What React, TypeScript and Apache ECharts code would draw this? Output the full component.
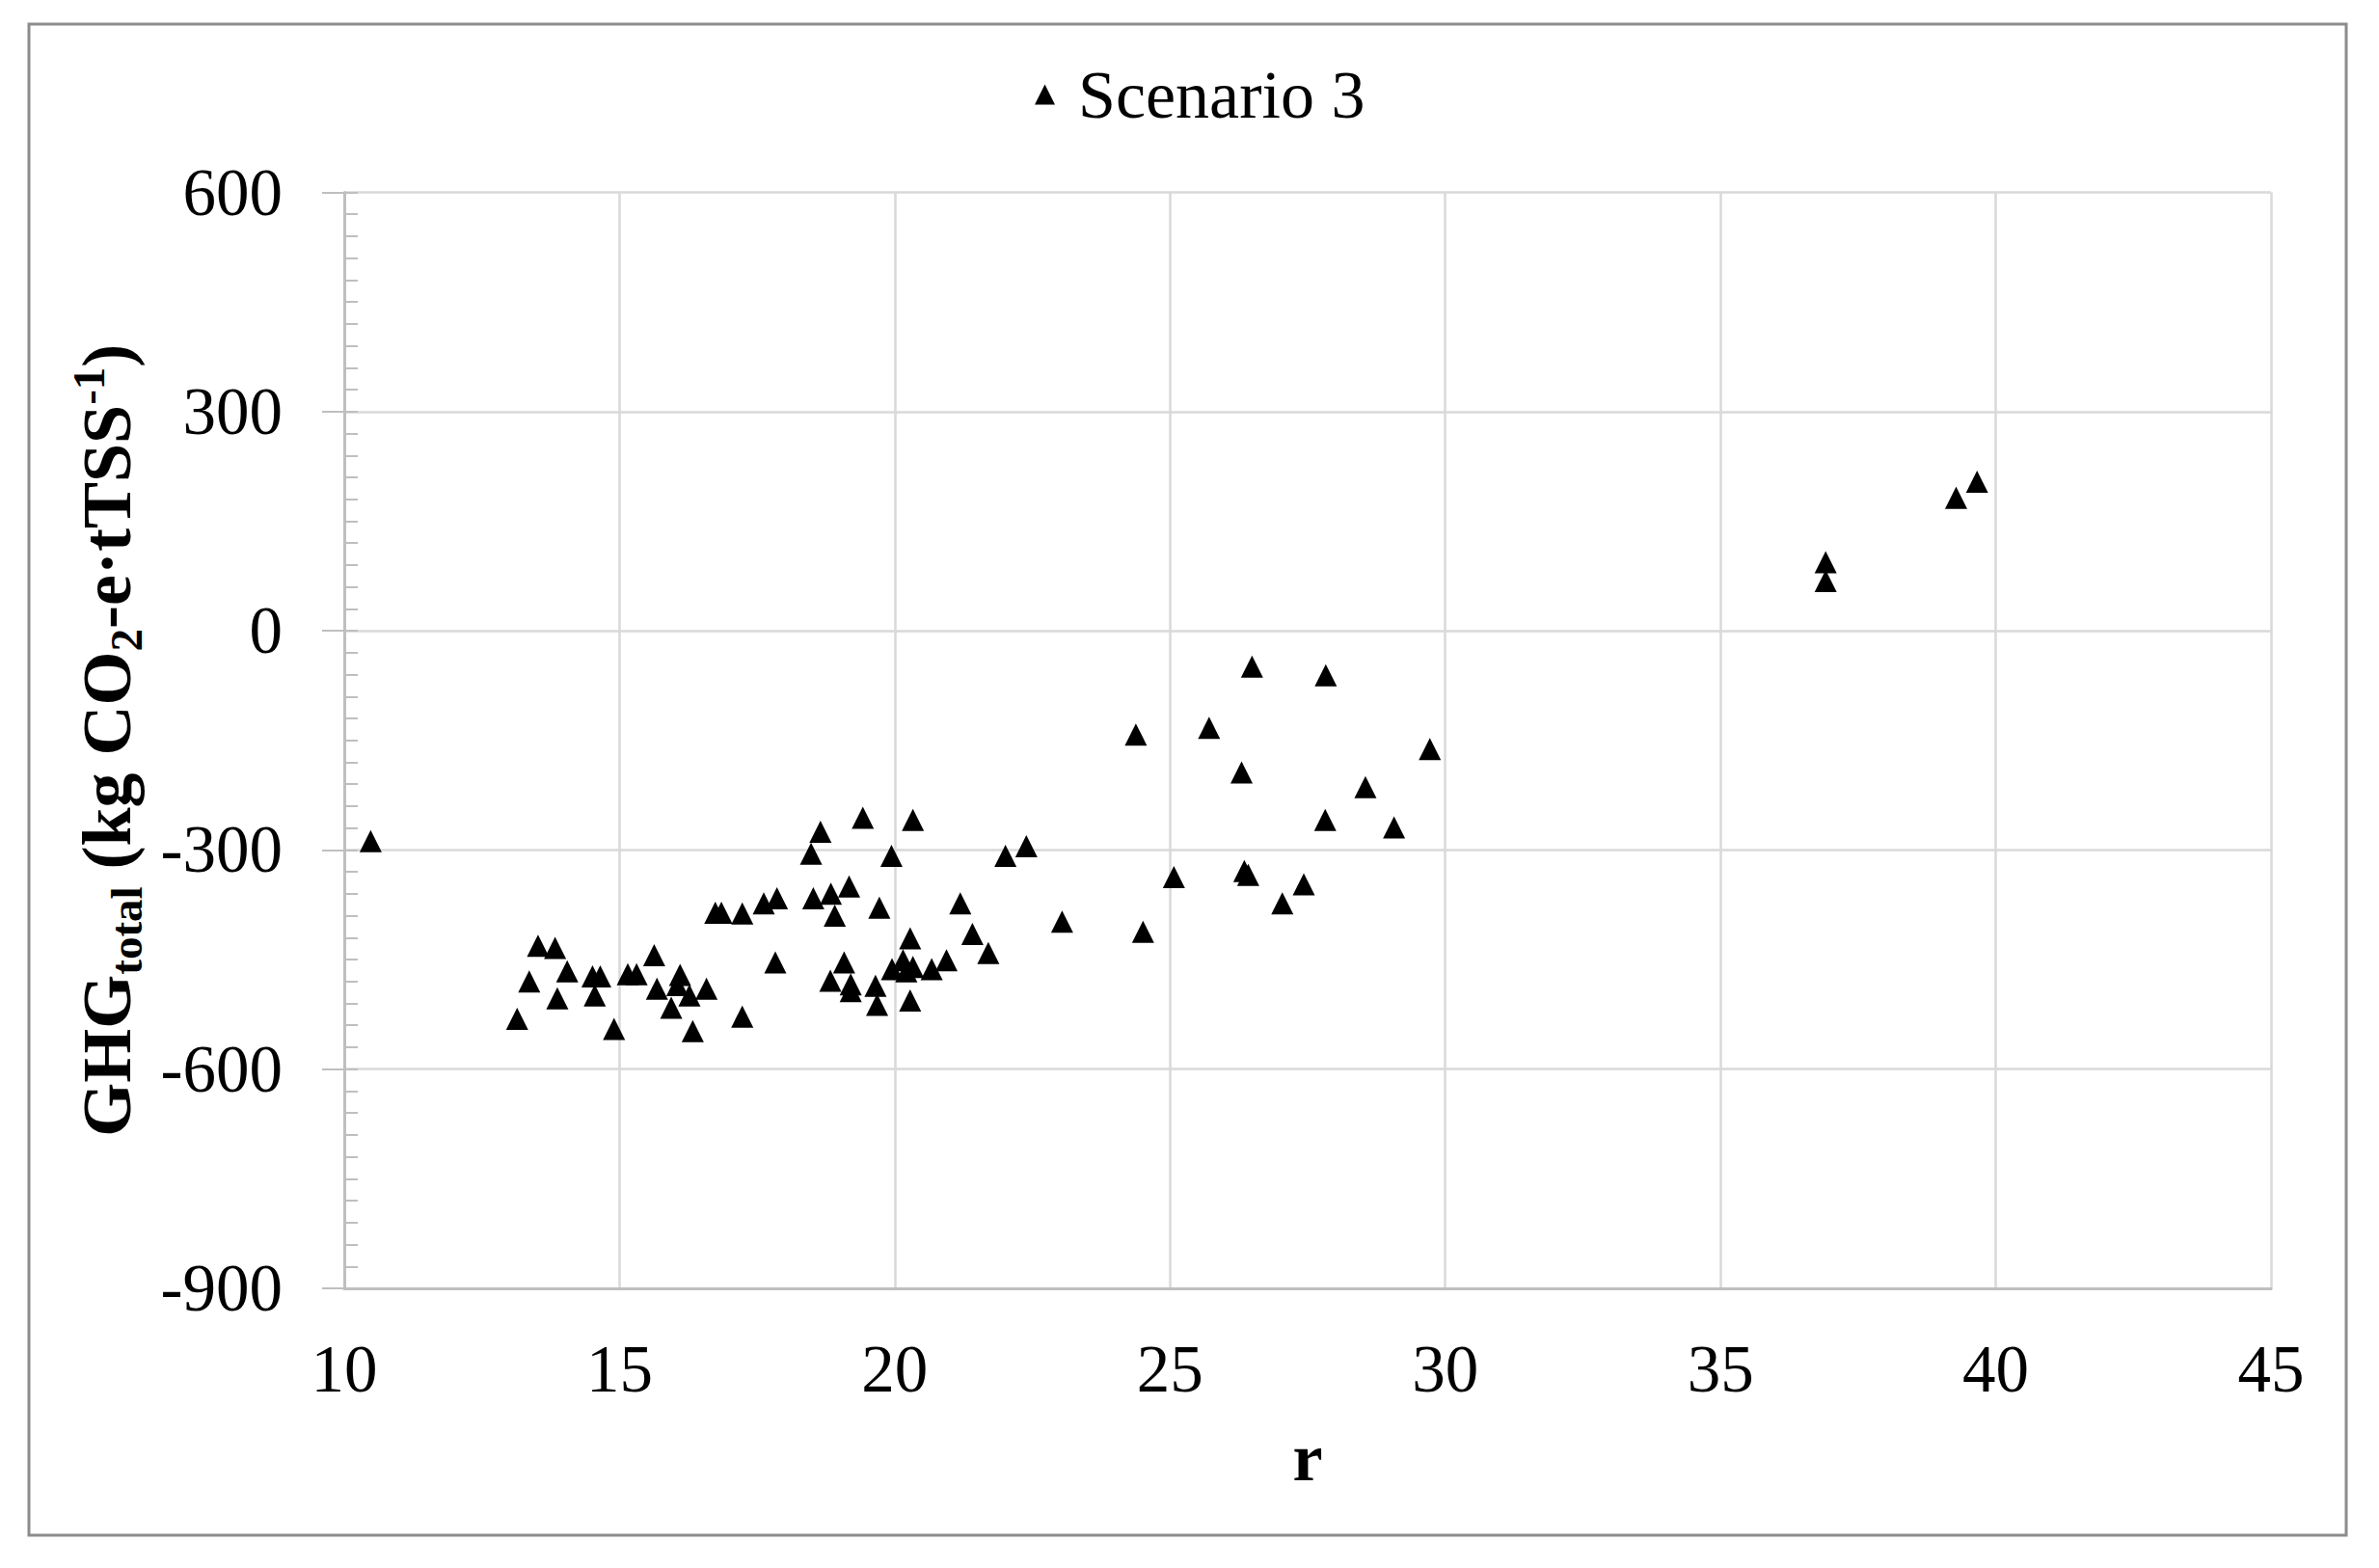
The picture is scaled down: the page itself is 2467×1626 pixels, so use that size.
import React, { useEffect, useRef } from "react";
import * as echarts from "echarts";

const seriesName = "Scenario 3";

const rValues = [
  10.48, 13.14, 13.36, 13.52, 13.83, 13.87, 14.05, 14.51, 14.65, 14.55,
  14.9, 15.15, 15.31, 15.63, 15.68, 15.94, 16.1, 16.05, 16.27, 16.33,
  16.58, 16.74, 16.85, 17.23, 17.23, 17.62, 17.86, 17.83, 18.48, 18.52,
  18.65, 18.84, 18.91, 18.83, 19.08, 19.17, 19.2, 19.2, 19.42, 19.65,
  19.68, 19.72, 19.94, 19.95, 20.15, 20.21, 20.33, 20.28, 20.28, 20.33,
  20.67, 20.94, 21.19, 21.41, 21.7, 22.01, 22.39, 23.04, 24.38, 24.51,
  25.07, 25.71, 26.3, 26.35, 26.42, 26.49, 27.04, 27.43, 27.82, 27.83,
  28.55, 29.07, 29.72, 36.91, 36.91, 39.28, 39.66,
];

const ghgValues = [
  -288, -531, -480, -431, -434, -503, -466, -473, -473, -499,
  -545, -470, -470, -444, -490, -516, -471, -485, -499, -548,
  -490, -386, -386, -387, -528, -373, -366, -454, -305, -366,
  -275, -360, -390, -479, -454, -350, -484, -493, -256, -486,
  -512, -379, -308, -463, -451, -466, -460, -421, -506, -259,
  -463, -451, -373, -415, -441, -308, -295, -398, -142, -412,
  -337, -133, -194, -329, -334, -49, -373, -347, -259, -61,
  -214, -269, -162, 94, 68, 182, 204,
];

const xMin = 10;
const xMax = 45;
const xInterval = 5;
const yMin = -900;
const yMax = 600;
const yInterval = 300;
const yMinorInterval = 30;

const FONT = "'Liberation Serif', 'Times New Roman', serif";

export default function App() {
  const ref = useRef<HTMLDivElement>(null);

  useEffect(() => {
    if (!ref.current) return;
    const chart = echarts.init(ref.current, undefined, { renderer: "svg" });
    const points = rValues.map((r, i) => [r, ghgValues[i]]);

    chart.setOption({
      animation: false,
      backgroundColor: "#ffffff",
      textStyle: { fontFamily: FONT },
      graphic: [
        {
          type: "rect",
          shape: { x: 30, y: 25, width: 2403, height: 1567 },
          style: { fill: "none", stroke: "#8c8c8c", lineWidth: 3 },
          silent: true,
        },
      ],
      legend: {
        data: [seriesName],
        left: 1068,
        top: 58,
        itemWidth: 21,
        itemHeight: 21,
        icon: "triangle",
        itemStyle: { color: "#000", opacity: 1 },
        textStyle: {
          fontFamily: FONT,
          fontSize: 70,
          color: "#000",
          padding: [0, 0, 0, 19],
        },
      },
      grid: {
        left: 357,
        right: 112,
        top: 199.5,
        bottom: 290,
        containLabel: false,
      },
      xAxis: {
        type: "value",
        min: xMin,
        max: xMax,
        interval: xInterval,
        name: "r",
        nameLocation: "middle",
        nameGap: 140,
        nameTextStyle: {
          fontFamily: FONT,
          fontSize: 70,
          fontWeight: "bold",
          color: "#000",
        },
        axisLine: {
          show: true,
          onZero: false,
          lineStyle: { color: "#bfbfbf", width: 3 },
        },
        axisTick: { show: false },
        axisLabel: {
          fontFamily: FONT,
          fontSize: 69,
          color: "#000",
          margin: 49,
        },
        splitLine: { show: true, lineStyle: { color: "#d9d9d9", width: 2.5 } },
      },
      yAxis: [
        {
          type: "value",
          min: yMin,
          max: yMax,
          interval: yInterval,
          position: "left",
          name:
            "{b|GHG}{s|total}{b| (kg CO}{s|2}{b|-e·tTSS}{p|-1}{b|)}",
          nameLocation: "middle",
          nameGap: 203,
          nameTextStyle: {
            fontFamily: FONT,
            color: "#000",
            rich: {
              b: {
                fontFamily: FONT,
                fontSize: 72,
                fontWeight: "bold",
                lineHeight: 86,
                verticalAlign: "middle",
                color: "#000",
              },
              s: {
                fontFamily: FONT,
                fontSize: 47,
                fontWeight: "bold",
                lineHeight: 46,
                verticalAlign: "bottom",
                color: "#000",
              },
              p: {
                fontFamily: FONT,
                fontSize: 47,
                fontWeight: "bold",
                lineHeight: 46,
                verticalAlign: "top",
                color: "#000",
              },
            },
          },
          axisLine: {
            show: true,
            onZero: false,
            lineStyle: { color: "#bfbfbf", width: 3 },
          },
          axisTick: {
            show: true,
            inside: false,
            length: 23,
            lineStyle: { color: "#bfbfbf", width: 2 },
          },
          axisLabel: {
            fontFamily: FONT,
            fontSize: 69,
            color: "#000",
            margin: 64,
          },
          splitLine: { show: true, lineStyle: { color: "#d9d9d9", width: 2.5 } },
        },
        {
          type: "value",
          min: yMin,
          max: yMax,
          interval: yMinorInterval,
          position: "left",
          offset: 0,
          axisLine: { show: false, onZero: false },
          axisTick: {
            show: true,
            inside: true,
            length: 14,
            lineStyle: { color: "#bfbfbf", width: 2 },
          },
          axisLabel: { show: false },
          splitLine: { show: false },
        },
      ],
      series: [
        {
          name: seriesName,
          type: "scatter",
          xAxisIndex: 0,
          yAxisIndex: 0,
          symbol: "triangle",
          symbolSize: 23,
          itemStyle: { color: "#000000", opacity: 1 },
          data: points,
        },
      ],
    });

    return () => chart.dispose();
  }, []);

  return (
    <div
      ref={ref}
      style={{
        position: "fixed",
        left: 0,
        top: 0,
        width: 2467,
        height: 1626,
        background: "#fff",
      }}
    />
  );
}
